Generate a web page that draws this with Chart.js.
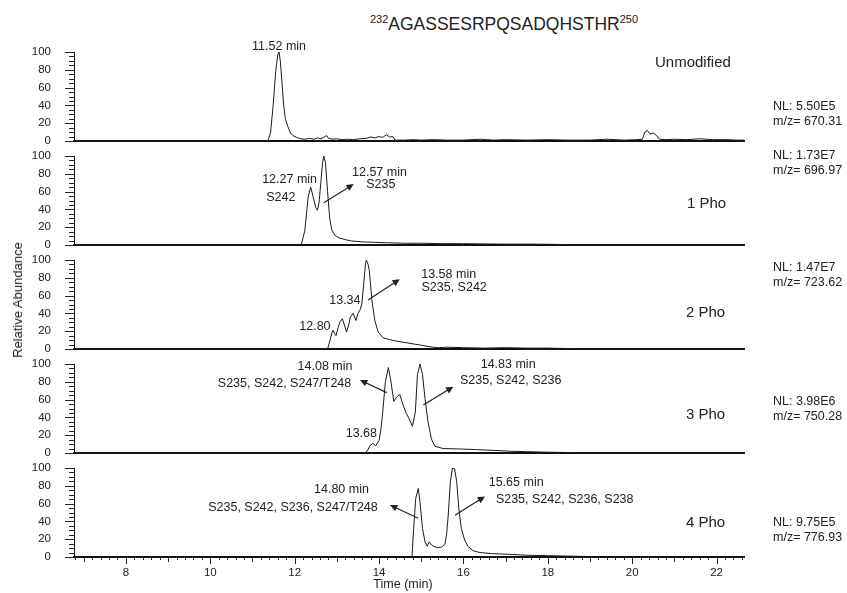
<!DOCTYPE html>
<html>
<head>
<meta charset="utf-8">
<script src="https://cdn.jsdelivr.net/npm/chart.js@4.4.0/dist/chart.umd.min.js"></script>
<style>
  body { margin: 0; background: #fff; font-family: "Liberation Sans", Arial, sans-serif; color: #222; }
  #wrap { position: relative; width: 847px; height: 593px; overflow: hidden; }
  canvas { position: absolute; left: 0; }
  .t { position: absolute; white-space: nowrap; font-size: 12.5px; line-height: 14px; }
  .pn { position: absolute; white-space: nowrap; font-size: 15px; line-height: 18px; }
</style>
</head>
<body>
<div id="wrap"></div>
<script>
const xTicks = [8, 10, 12, 14, 16, 18, 20, 22];
const yTicks = [0, 20, 40, 60, 80, 100];
const panelNames = ["Unmodified", "1 Pho", "2 Pho", "3 Pho", "4 Pho"];
const nlValues = ["NL: 5.50E5", "NL: 1.73E7", "NL: 1.47E7", "NL: 3.98E6", "NL: 9.75E5"];
const mzValues = ["m/z= 670.31", "m/z= 696.97", "m/z= 723.62", "m/z= 750.28", "m/z= 776.93"];

// traces, time (min) / relative abundance
const timeUnmod = [6.77, 11.30, 11.37, 11.43, 11.49, 11.55, 11.60, 11.63, 11.66, 11.70, 11.74, 11.78, 11.84, 11.90, 11.96, 12.05, 12.15,
  12.25, 12.35, 12.45, 12.55, 12.62, 12.70, 12.76, 12.80, 12.90, 13.00, 13.10, 13.25, 13.40, 13.55, 13.70, 13.80, 13.90, 14.00, 14.08,
  14.18, 14.25, 14.33, 14.38, 14.60, 14.80, 15.00, 15.30, 15.60, 16.00, 16.40, 16.70, 17.00, 17.50, 18.00, 18.50, 19.00, 19.40, 19.80,
  20.10, 20.24, 20.30, 20.36, 20.42, 20.50, 20.58, 20.65, 20.80, 21.00, 21.30, 21.60, 21.90, 22.20, 22.50, 22.65];
const abundUnmod = [0, 0, 0.5, 10, 40, 78, 97, 100, 90, 65, 40, 25, 16, 9, 6, 4, 2.5,
  2, 3, 2, 3.5, 2.5, 4.5, 6, 3, 2, 2.5, 1.5, 2, 1.5, 2.5, 3, 4.5, 3.5, 5, 4,
  7, 4.5, 5, 1, 1, 1.5, 1, 1.5, 1, 1, 2, 1, 1.5, 1, 1.5, 1, 1, 2, 1,
  1.5, 2, 10, 12, 8, 9, 6, 2, 1.5, 2, 1.5, 2.5, 1.5, 1.5, 1, 1];

const time1Pho = [6.77, 12.10, 12.16, 12.24, 12.32, 12.38, 12.44, 12.50, 12.54, 12.58, 12.62, 12.66, 12.69, 12.73, 12.78, 12.83, 12.88,
  12.95, 13.05, 13.20, 13.35, 13.60, 13.90, 14.20, 14.60, 15.00, 15.50, 16.00, 16.50, 17.00, 17.50, 18.00, 18.40, 18.60, 22.65];
const abund1Pho = [0, 0, 1, 16, 54, 65, 54, 42, 39, 48, 70, 92, 100, 93, 60, 30, 17,
  11, 8, 6, 4.5, 3.5, 3, 2.5, 2, 2, 1.5, 1.5, 1.2, 1, 1, 0.8, 0.5, 0, 0];

const time2Pho = [6.77, 12.78, 12.84, 12.88, 12.91, 12.95, 12.98, 13.03, 13.07, 13.13, 13.18, 13.23, 13.28, 13.32, 13.39, 13.45, 13.50,
  13.55, 13.59, 13.64, 13.68, 13.70, 13.74, 13.77, 13.83, 13.90, 13.98, 14.10, 14.34, 14.65, 14.97, 15.28, 15.40, 15.60, 16.00, 16.50,
  17.00, 17.50, 18.00, 18.50, 18.70, 22.65];
const abund2Pho = [0, 0, 10, 18, 21, 17, 15, 24, 30, 34, 27, 19, 27, 36, 40, 32, 40,
  44, 50, 75, 96, 100, 95, 88, 55, 32, 19, 12.5, 9.5, 7, 4.5, 2, 1.5, 2, 1.5, 1,
  1.5, 1, 1, 0.5, 0, 0];

const time3Pho = [6.77, 13.68, 13.74, 13.78, 13.85, 13.92, 14.00, 14.04, 14.08, 14.15, 14.22, 14.27, 14.35, 14.42, 14.49, 14.57, 14.65,
  14.71, 14.79, 14.86, 14.91, 14.97, 15.03, 15.09, 15.16, 15.24, 15.32, 15.52, 15.91, 16.31, 16.70, 17.10, 17.50, 17.90, 18.50, 18.70, 22.65];
const abund3Pho = [0, 0, 4, 8, 11, 8, 14, 25, 42, 80, 96, 84, 58, 63, 66, 54, 44,
  39, 30, 46, 88, 100, 88, 61, 35, 16, 7.6, 5, 4.5, 3.8, 3, 2, 1.5, 1, 0.5, 0, 0];

const time4Pho = [6.77, 14.78, 14.82, 14.87, 14.93, 14.97, 15.03, 15.09, 15.14, 15.19, 15.24, 15.30, 15.38, 15.48, 15.56, 15.60, 15.64,
  15.69, 15.74, 15.79, 15.84, 15.89, 15.95, 16.03, 16.11, 16.23, 16.39, 16.70, 17.10, 17.50, 18.00, 18.50, 19.00, 19.30, 22.65];
const abund4Pho = [0, 0, 32, 66, 77, 62, 32, 17, 12, 17, 13.5, 12, 10.5, 11, 14, 25, 47,
  85, 100, 99, 85, 55, 32, 19, 11.6, 7, 5, 3.7, 3, 2, 1.5, 1, 0.5, 0, 0];

// peak notes: text, time, abundance
const notes = [
  [["11.52 min", 11.63, 106.5]],
  [["12.27 min", 11.88, 74], ["S242", 11.67, 53], ["12.57 min", 14.01, 81], ["S235", 14.04, 67.5]],
  [["13.58 min", 15.65, 84], ["S235, S242", 15.78, 68.5], ["13.34", 13.19, 54.3], ["12.80", 12.48, 25]],
  [["14.08 min", 12.72, 96.6], ["S235, S242, S247/T248", 11.76, 77.5], ["14.83 min", 17.06, 99],
   ["S235, S242, S236", 17.12, 81], ["13.68", 13.58, 22]],
  [["14.80 min", 13.11, 75.3], ["S235, S242, S236, S247/T248", 11.96, 56], ["15.65 min", 17.25, 83.5],
   ["S235, S242, S236, S238", 18.40, 65]]
];
// arrows: from (time, abundance) to (time, abundance)
const arrows = [
  [],
  [[12.69, 47.5, 13.40, 68.5]],
  [[13.74, 55, 14.49, 78.3]],
  [[14.18, 67.8, 13.55, 82], [15.05, 54, 15.76, 74.5]],
  [[14.93, 43.5, 14.26, 58.4], [15.80, 47, 16.51, 68]]
];

const X_MIN = 6.77, X_MAX = 22.65;
const FONT = '"Liberation Sans", Arial, sans-serif';
Chart.defaults.font.family = FONT;
Chart.defaults.color = "#222";

const decor = {
  id: "decor",
  afterDraw(chart, args, opts) {
    const { ctx, chartArea: ca } = chart;
    const x = chart.scales.x, y = chart.scales.y;
    ctx.save();
    ctx.strokeStyle = "#222";
    ctx.fillStyle = "#222";
    ctx.lineWidth = 1;
    // y minor/major ticks
    for (let v = 0; v <= 100; v += 5) {
      const py = Math.round(y.getPixelForValue(v)) + 0.5;
      const len = v % 20 === 0 ? 9 : 5;
      ctx.beginPath();
      ctx.moveTo(ca.left - len, py);
      ctx.lineTo(ca.left, py);
      ctx.stroke();
    }
    // x ticks on the bottom panel
    if (opts.xTicks) {
      for (let i = 34; i <= 113; i++) {
        const v = i / 5;
        if (v < x.min || v > x.max) continue;
        const px = Math.round(x.getPixelForValue(v)) + 0.5;
        const len = i % 10 === 0 ? 7 : (i % 5 === 0 ? 5 : 3);
        ctx.beginPath();
        ctx.moveTo(px, ca.bottom);
        ctx.lineTo(px, ca.bottom + len);
        ctx.stroke();
      }
    }
    ctx.font = "12.5px " + FONT;
    ctx.textAlign = "center";
    ctx.textBaseline = "middle";
    for (const [text, t, v] of opts.notes) {
      ctx.fillText(text, x.getPixelForValue(t), y.getPixelForValue(v));
    }
    ctx.lineWidth = 1.2;
    for (const [t1, v1, t2, v2] of opts.arrows) {
      const x1 = x.getPixelForValue(t1), y1 = y.getPixelForValue(v1);
      const x2 = x.getPixelForValue(t2), y2 = y.getPixelForValue(v2);
      const a = Math.atan2(y2 - y1, x2 - x1);
      ctx.beginPath();
      ctx.moveTo(x1, y1);
      ctx.lineTo(x2 - 4 * Math.cos(a), y2 - 4 * Math.sin(a));
      ctx.stroke();
      ctx.beginPath();
      ctx.moveTo(x2, y2);
      ctx.lineTo(x2 - 8 * Math.cos(a - 0.45), y2 - 8 * Math.sin(a - 0.45));
      ctx.lineTo(x2 - 8 * Math.cos(a + 0.45), y2 - 8 * Math.sin(a + 0.45));
      ctx.closePath();
      ctx.fill();
    }
    ctx.restore();
  }
};

const wrap = document.getElementById("wrap");
const series = [
  [timeUnmod, abundUnmod],
  [time1Pho, abund1Pho],
  [time2Pho, abund2Pho],
  [time3Pho, abund3Pho],
  [time4Pho, abund4Pho]
];

function addText(cls, text, left, cy, lh) {
  const d = document.createElement("div");
  d.className = cls;
  d.textContent = text;
  d.style.left = left + "px";
  d.style.top = (cy - lh / 2) + "px";
  wrap.appendChild(d);
}

series.forEach(([times, values], i) => {
  const last = i === 4;
  const top = 52 + 104 * i;
  const cv = document.createElement("canvas");
  cv.width = 847;
  cv.height = last ? 140 : 119;
  cv.style.top = (top - 15) + "px";
  wrap.appendChild(cv);

  new Chart(cv, {
    type: "line",
    data: {
      datasets: [{
        data: times.map((t, k) => ({ x: t, y: values[k] })),
        borderColor: "#1a1a1a",
        borderWidth: 1,
        pointRadius: 0,
        tension: 0
      }]
    },
    options: {
      responsive: false,
      animation: false,
      events: [],
      layout: { padding: { left: 0, right: 103, top: 15, bottom: last ? 0 : 15 } },
      plugins: {
        legend: { display: false },
        tooltip: { enabled: false },
        decor: { notes: notes[i], arrows: arrows[i], xTicks: last }
      },
      scales: {
        x: {
          type: "linear",
          min: X_MIN,
          max: X_MAX,
          grid: { display: false, drawTicks: true, tickLength: 7 },
          border: { display: true, color: "#111", width: 2 },
          ticks: { display: last, padding: 2, maxRotation: 0, autoSkip: false, font: { size: 11.5 } },
          afterBuildTicks: s => { s.ticks = xTicks.map(v => ({ value: v })); },
          afterFit: s => { s.height = last ? 36 : 0; }
        },
        y: {
          type: "linear",
          min: 0,
          max: 100,
          grid: { display: false, drawTicks: true, tickLength: 21 },
          border: { display: true, color: "#111", width: 1 },
          ticks: { padding: 2, autoSkip: false, font: { size: 11.5 } },
          afterBuildTicks: s => { s.ticks = yTicks.map(v => ({ value: v })); },
          afterFit: s => { s.width = 74; s.paddingTop = 0; s.paddingBottom = 0; }
        }
      }
    },
    plugins: [decor]
  });
});

// title and side texts
const title = document.createElement("div");
title.style.cssText = "position:absolute;top:8px;left:504px;transform:translateX(-50%);font-size:17.5px;line-height:22px;white-space:nowrap;";
title.innerHTML = '<sup style="font-size:11px">232</sup>AGASSESRPQSADQHSTHR<sup style="font-size:11px">250</sup>';
wrap.appendChild(title);

const yTitle = document.createElement("div");
yTitle.textContent = "Relative Abundance";
yTitle.style.cssText = "position:absolute;left:18px;top:300px;font-size:13px;line-height:14px;white-space:nowrap;transform:translate(-50%,-50%) rotate(-90deg);";
wrap.appendChild(yTitle);

const xTitle = document.createElement("div");
xTitle.textContent = "Time (min)";
xTitle.style.cssText = "position:absolute;left:403px;top:584px;font-size:12.5px;line-height:14px;white-space:nowrap;transform:translate(-50%,-50%);";
wrap.appendChild(xTitle);

const nameX = [655, 687, 686, 686, 686];
const nameY = [62, 203, 312, 414, 522];
const nlY = [106, 155, 267, 401, 522];
panelNames.forEach((n, i) => {
  addText("pn", n, nameX[i], nameY[i], 18);
  addText("t", nlValues[i], 773, nlY[i], 14);
  addText("t", mzValues[i], 773, nlY[i] + 15, 14);
});
</script>
</body>
</html>
